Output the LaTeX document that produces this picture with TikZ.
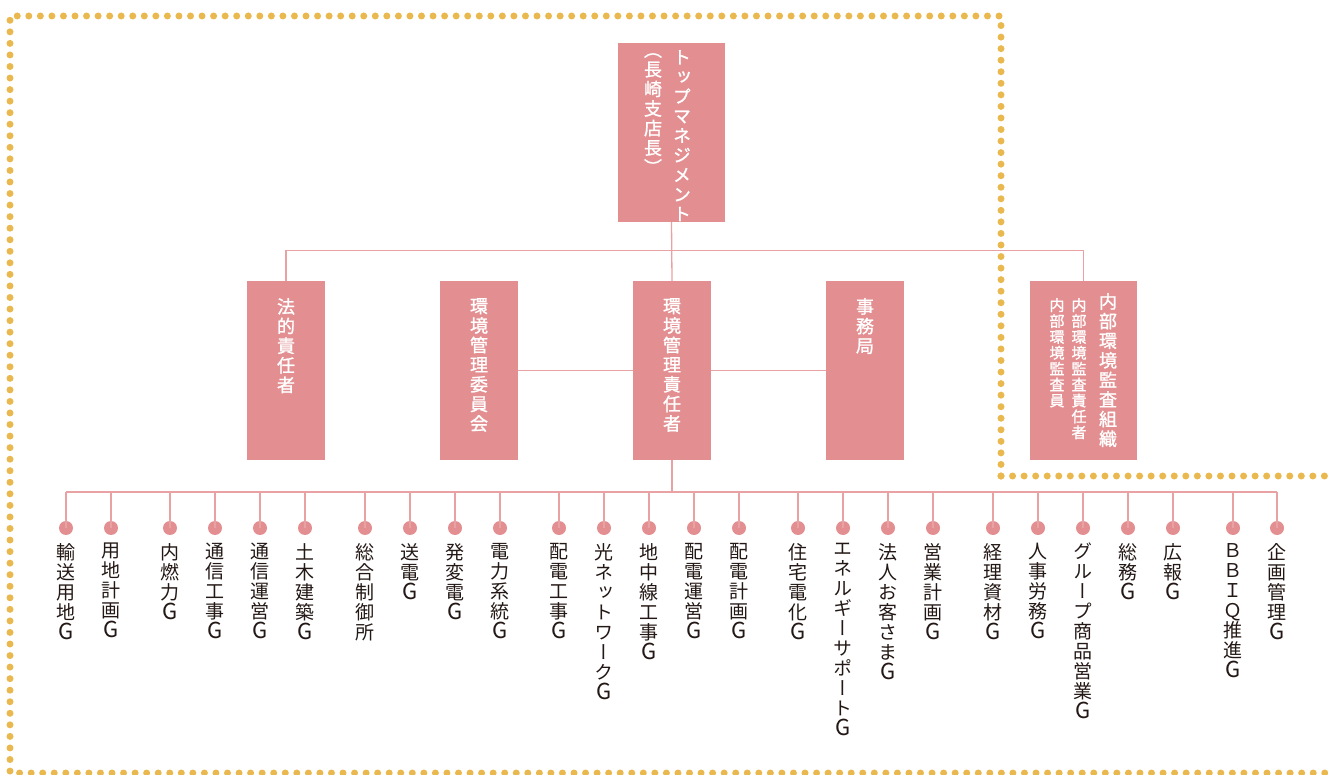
\documentclass[tikz,border=0pt]{standalone}
\usepackage{fontspec}
\newfontfamily\jp[RawFeature=+vert]{Noto Sans CJK JP}
\newfontfamily\jpb[RawFeature=+vert,FakeBold=1.2]{Noto Sans CJK JP}
\definecolor{boxc}{HTML}{E38F91}
\definecolor{linec}{HTML}{E9A2A4}
\definecolor{dotc}{HTML}{E9B94F}
\definecolor{txtc}{HTML}{231815}
\newcommand\gG{{\fontsize{22}{20}\selectfont G}}
\ExplSyntaxOn
\NewDocumentCommand\vt{m}{
  \seq_clear:N \l_tmpa_seq
  \tl_map_inline:nn {#1} { \seq_put_right:Nn \l_tmpa_seq {##1} }
  \seq_use:Nn \l_tmpa_seq { \\ }
}
\ExplSyntaxOff
\tikzset{
  pbox/.style={fill=boxc, draw=none, inner sep=0pt, minimum height=179pt},
  wtxt/.style={text=white, font=\jpb\fontsize{18}{19.6}\selectfont, align=center, inner sep=0pt, anchor=north},
  wsmall/.style={text=white, font=\jpb\fontsize{15}{15.9}\selectfont, align=center, inner sep=0pt, anchor=north},
  ltxt/.style={text=txtc, font=\jp\fontsize{19}{20}\selectfont, align=center, inner sep=0pt, anchor=north},
  conn/.style={draw=linec, line width=1.3pt},
  dotn/.style={circle, fill=boxc, minimum size=14pt, inner sep=0pt},
  border/.style={draw=dotc, line width=7pt, line cap=round, dash pattern=on 0pt off 11.55pt}
}
\begin{document}
\begin{tikzpicture}[x=1pt,y=-1pt]
\useasboundingbox (0,0) rectangle (1328,775);
% dotted frame
\draw[border] (1001,476) -- (1001,16) -- (10,16) -- (10,773) -- (1345,773);
\draw[border] (1001,476) -- (1345,476);
% boxes
\node[pbox, minimum width=107pt] (top) at (671.5,132.5) {};
\node[wtxt] (topa) at (682,50) {\vt{トップマネジメント}};
\node[wtxt] (topb) at (653,53) {\vt{（長崎支店長）}};
\node[pbox, minimum width=78pt] (law) at (286,370.5) {};
\node[wtxt] (lawt) at (286,298) {\vt{法的責任者}};
\node[pbox, minimum width=78pt] (comm) at (479,370.5) {};
\node[wtxt] (commt) at (479,298) {\vt{環境管理委員会}};
\node[pbox, minimum width=78pt] (mgr) at (672,370.5) {};
\node[wtxt] (mgrt) at (672,298) {\vt{環境管理責任者}};
\node[pbox, minimum width=78pt] (sec) at (865,370.5) {};
\node[wtxt] (sect) at (865,298) {\vt{事務局}};
\node[pbox, minimum width=107pt] (audit) at (1083.5,370.5) {};
\node[wtxt] (audita) at (1108,293) {\vt{内部環境監査組織}};
\node[wsmall] (auditb) at (1079,298) {\vt{内部環境監査責任者}};
\node[wsmall] (auditc) at (1057,298) {\vt{内部環境監査員}};
% upper connectors
\draw[conn] (top.south) -- (mgr.north);
\draw[conn] (law.north) -- ++(0,-30) -| (audit.north);
\draw[conn] (comm.east) -- (mgr.west);
\draw[conn] (mgr.east) -- (sec.west);
% lower groups
\coordinate (bus) at (672,492);
\draw[conn] (mgr.south) -- (bus);
\foreach \i/\x/\t in {
 1/66/{輸送用地\gG}, 2/111/{用地計画\gG}, 3/170/{内燃力\gG}, 4/215/{通信工事\gG},
 5/260/{通信運営\gG}, 6/305/{土木建築\gG}, 7/365/{総合制御所}, 8/410/{送電\gG},
 9/455/{発変電\gG}, 10/500/{電力系統\gG}, 11/559/{配電工事\gG}, 12/604/{光ネットワーク\gG},
 13/649/{地中線工事\gG}, 14/694/{配電運営\gG}, 15/739/{配電計画\gG}, 16/798/{住宅電化\gG},
 17/843/{エネルギーサポート\gG}, 18/888/{法人お客さま\gG}, 19/933/{営業計画\gG},
 20/993/{経理資材\gG}, 21/1038/{人事労務\gG}, 22/1083/{グループ商品営業\gG},
 23/1128/{総務\gG}, 24/1173/{広報\gG}, 25/1233/{ＢＢＩＱ推進\gG}, 26/1277/{企画管理\gG}} {
  \node[dotn] (d\i) at (\x,528) {};
  \draw[conn] (d\i.center) -- (d\i.center |- bus);
  \node[ltxt] (l\i) at (\x,543) {\expandafter\vt\expandafter{\t}};
}
\draw[conn] (d1.center |- bus) -- (d26.center |- bus);
\end{tikzpicture}
\end{document}
